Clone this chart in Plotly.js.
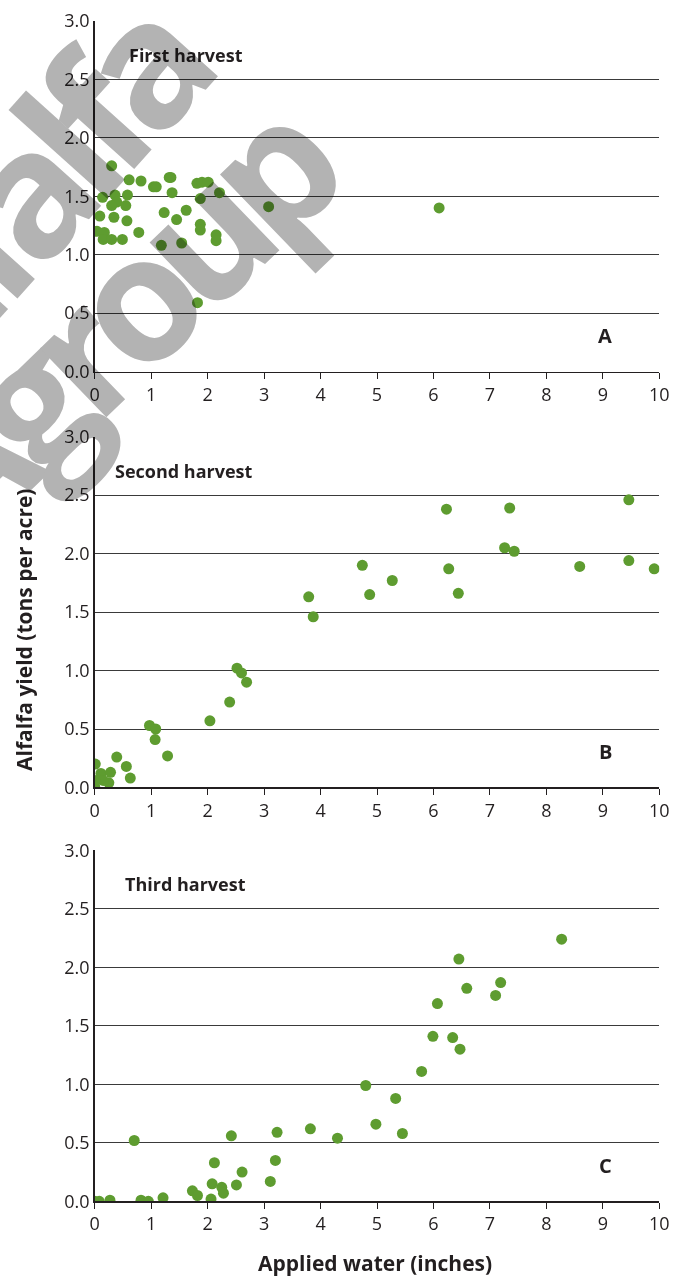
<!DOCTYPE html>
<html>
<head>
<meta charset="utf-8">
<script src="https://cdn.plot.ly/plotly-3.0.1.min.js"></script>
<style>html,body{margin:0;padding:0;background:#fff;}#chart{width:679px;height:1279px;}</style>
</head>
<body>
<div id="chart"></div>
<script>
// First harvest
const firstWater = [0.30,0.61,0.82,1.04,1.09,1.32,1.35,1.81,1.90,2.01,0.14,0.36,0.58,0.39,0.30,0.55,1.37,1.87,2.21,0.09,0.34,0.57,1.23,1.62,1.45,1.87,1.87,0.04,0.17,0.15,0.30,0.49,0.78,1.18,1.54,2.15,2.15,3.08,1.82,6.10];
const firstYield = [1.76,1.64,1.63,1.58,1.58,1.66,1.66,1.61,1.62,1.62,1.49,1.51,1.51,1.45,1.42,1.42,1.53,1.48,1.53,1.33,1.32,1.29,1.36,1.38,1.30,1.26,1.21,1.20,1.19,1.13,1.13,1.13,1.19,1.08,1.10,1.17,1.12,1.41,0.59,1.40];
// Second harvest
const secondWater = [3.79,3.87,2.52,2.60,2.69,2.39,2.04,0.97,1.08,1.07,1.29,0.39,0.56,0.63,0.01,0.11,0.28,0.25,0.15,0.00,0.00,4.74,4.87,5.27,6.23,6.27,6.44,7.26,7.35,7.43,8.59,9.46,9.46,9.91];
const secondYield = [1.63,1.46,1.02,0.98,0.90,0.73,0.57,0.53,0.50,0.41,0.27,0.26,0.18,0.08,0.20,0.12,0.13,0.04,0.06,0.06,0.01,1.90,1.65,1.77,2.38,1.87,1.66,2.05,2.39,2.02,1.89,2.46,1.94,1.87];
// Third harvest
const thirdWater = [8.27,6.45,6.59,6.07,7.19,7.10,5.99,6.34,6.47,5.79,5.33,5.45,4.98,4.80,0.70,2.42,3.23,3.82,4.30,2.12,3.20,2.61,3.11,2.51,2.08,2.25,2.28,1.73,1.82,2.06,1.21,0.82,0.95,0.00,0.08,0.27];
const thirdYield = [2.24,2.07,1.82,1.69,1.87,1.76,1.41,1.40,1.30,1.11,0.88,0.58,0.66,0.99,0.52,0.56,0.59,0.62,0.54,0.33,0.35,0.25,0.17,0.14,0.15,0.12,0.07,0.09,0.05,0.02,0.03,0.01,0.00,0.00,0.00,0.01];

const panelTitles = ["First harvest","Second harvest","Third harvest"];
const panelLetters = ["A","B","C"];
const yTickVals = [0,0.5,1,1.5,2,2.5,3];
const xTickVals = [0,1,2,3,4,5,6,7,8,9,10];
const yTitle = "Alfalfa yield (tons per acre)";
const xTitle = "Applied water (inches)";
const watermark = ["Alfalfa","Agroup"];

const FONT = '"Open Sans", "DejaVu Sans", sans-serif';
const INK = '#231f20';
const GREEN = '#5e9c30';

const series = [[firstWater,firstYield],[secondWater,secondYield],[thirdWater,thirdYield]];
const yDomains = [[0.7094,0.9838],[0.3843,0.6586],[0.0607,0.3352]];
const xDomain = [0.1395,0.9710];

const data = series.map((s,i)=>({
  type:'scatter', mode:'markers',
  x:s[0], y:s[1],
  xaxis: i===0?'x':'x'+(i+1),
  yaxis: i===0?'y':'y'+(i+1),
  marker:{color:GREEN,size:11,line:{width:0}},
  hoverinfo:'skip', showlegend:false
}));

const layout = {
  width:679, height:1279,
  margin:{l:0,r:0,t:0,b:0},
  paper_bgcolor:'#fff', plot_bgcolor:'rgba(0,0,0,0)',
  font:{family:FONT,color:INK},
  showlegend:false,
  annotations:[]
};

for(let i=0;i<3;i++){
  const xk = i===0?'xaxis':'xaxis'+(i+1);
  const yk = i===0?'yaxis':'yaxis'+(i+1);
  const xr = i===0?'x':'x'+(i+1);
  const yr = i===0?'y':'y'+(i+1);
  layout[xk] = {
    domain:xDomain, anchor:yr, range:[0,10], fixedrange:true,
    tickvals:xTickVals, ticktext:xTickVals.map(String),
    ticks:'outside', ticklen:6, tickwidth:1, tickcolor:INK,
    showline:true, linecolor:INK, linewidth:1.5,
    showgrid:false, zeroline:false,
    tickfont:{family:FONT,size:18,color:INK}
  };
  layout[yk] = {
    domain:yDomains[i], anchor:xr, range:[0,3], fixedrange:true,
    tickvals:yTickVals, ticktext:yTickVals.map(v=>v.toFixed(1)),
    ticks:'', showline:true, linecolor:INK, linewidth:1.5,
    showgrid:true, gridcolor:'#3a3a3a', gridwidth:1, zeroline:false,
    tickfont:{family:FONT,size:18,color:INK}
  };
  layout.annotations.push({
    xref:xr, yref:yr, x:[0.57,0.32,0.50][i], y:2.71, xanchor:'left', yanchor:'middle',
    text:'<b>'+panelTitles[i]+'</b>', showarrow:false,
    font:{family:FONT,size:18,color:INK}
  });
  layout.annotations.push({
    xref:xr, yref:yr, x:9.04, y:0.31, xanchor:'center', yanchor:'middle',
    text:'<b>'+panelLetters[i]+'</b>', showarrow:false,
    font:{family:FONT,size:20,color:INK}
  });
}
layout.annotations.push({
  xref:'paper', yref:'paper', x:24/679, y:1-630/1279, xanchor:'center', yanchor:'middle',
  text:'<b>'+yTitle+'</b>', textangle:-90, showarrow:false,
  font:{family:FONT,size:21,color:INK}
});
layout.annotations.push({
  xref:'paper', yref:'paper', x:375/679, y:0, xanchor:'center', yanchor:'bottom',
  text:'<b>'+xTitle+'</b>', showarrow:false,
  font:{family:FONT,size:21,color:INK}
});
// watermark
layout.annotations.push({
  xref:'paper', yref:'paper', x:13/679, y:1-202/1279, xanchor:'center', yanchor:'middle',
  text:'<b>'+watermark[0]+'</b>', textangle:-48, showarrow:false,
  font:{family:FONT,size:175,color:'rgb(179,179,179)'}
});
layout.annotations.push({
  xref:'paper', yref:'paper', x:106/679, y:1-323/1279, xanchor:'center', yanchor:'middle',
  text:'<b>'+watermark[1]+'</b>', textangle:-44, showarrow:false,
  font:{family:FONT,size:175,color:'rgb(179,179,179)'}
});

Plotly.newPlot('chart', data, layout, {staticPlot:true, displayModeBar:false}).then(()=>{
  const anns = document.querySelectorAll('.annotation');
  const n = anns.length;
  [anns[n-2], anns[n-1]].forEach(a=>{
    if(!a) return;
    a.style.mixBlendMode='multiply';
    a.querySelectorAll('text').forEach(t=>{ t.style.letterSpacing='-0.1em'; t.style.fontWeight='800'; });
  });
});
</script>
</body>
</html>
